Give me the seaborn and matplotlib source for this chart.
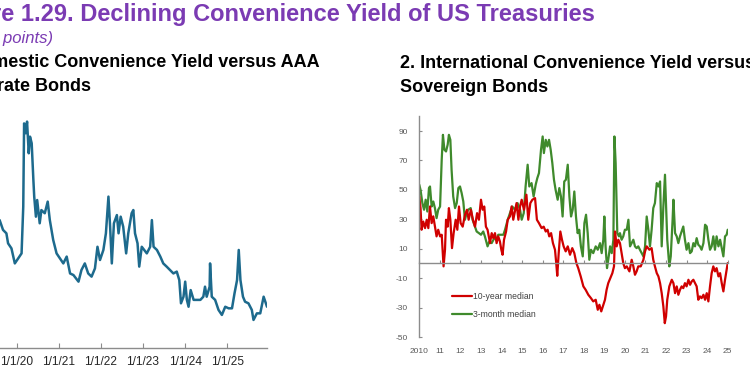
import matplotlib
matplotlib.use("Agg")
import matplotlib.pyplot as plt
import seaborn as sns
import pandas as pd

# ---------------- data ----------------
# Panel 1: domestic convenience yield (basis points), decimal years
dom_x = [2019.50, 2019.60, 2019.68, 2019.76, 2019.80, 2019.88, 2019.96, 2020.04, 2020.12, 2020.16,
         2020.18, 2020.22, 2020.25, 2020.29, 2020.32, 2020.36, 2020.40, 2020.42, 2020.46, 2020.49,
         2020.55, 2020.59, 2020.67, 2020.74, 2020.79, 2020.87, 2020.95, 2021.03, 2021.11, 2021.19,
         2021.27, 2021.35, 2021.47, 2021.54, 2021.62, 2021.70, 2021.78, 2021.86, 2021.92, 2021.98,
         2022.06, 2022.12, 2022.18, 2022.22, 2022.26, 2022.31, 2022.38, 2022.42, 2022.47, 2022.53,
         2022.60, 2022.65, 2022.73, 2022.77, 2022.81, 2022.87, 2022.91, 2022.97, 2023.09, 2023.17,
         2023.21, 2023.25, 2023.33, 2023.41, 2023.48, 2023.56, 2023.64, 2023.72, 2023.80, 2023.86,
         2023.90, 2023.96, 2024.00, 2024.04, 2024.08, 2024.13, 2024.20, 2024.28, 2024.36, 2024.43,
         2024.47, 2024.51, 2024.58, 2024.59, 2024.63, 2024.71, 2024.79, 2024.87, 2024.95, 2025.03,
         2025.11, 2025.17, 2025.23, 2025.27, 2025.31, 2025.37, 2025.42, 2025.50, 2025.58, 2025.62,
         2025.70, 2025.78, 2025.86, 2025.94]
dom_v = [54.0, 56.1, 51.8, 50.3, 45.9, 43.7, 37.1, 39.3, 41.5, 62.0,
         98.5, 94.2, 99.3, 85.4, 92.7, 89.8, 73.7, 66.4, 57.6, 64.9,
         54.7, 60.5, 59.1, 64.2, 56.1, 47.4, 41.5, 39.3, 37.1, 40.1,
         32.7, 32.0, 29.1, 34.2, 37.1, 32.7, 31.3, 34.9, 44.4, 38.6,
         43.0, 50.3, 66.4, 53.2, 37.1, 54.7, 58.3, 50.3, 57.6, 53.2,
         41.5, 50.3, 59.1, 60.5, 50.3, 45.9, 35.7, 44.4, 41.5, 44.4,
         56.1, 44.4, 43.0, 40.1, 37.1, 35.7, 34.2, 32.7, 33.5, 29.8,
         19.6, 22.5, 29.1, 21.1, 18.1, 25.4, 21.1, 21.1, 21.1, 22.5,
         26.9, 22.5, 26.9, 37.1, 22.5, 21.1, 16.7, 14.5, 18.1, 17.4,
         17.4, 24.0, 29.8, 43.0, 29.8, 22.5, 20.3, 19.6, 16.7, 12.3,
         15.2, 15.2, 22.5, 18.1]
dom_ticks = [2020, 2021, 2022, 2023, 2024, 2025]
dom_tick_labels = ["1/1/20", "1/1/21", "1/1/22", "1/1/23", "1/1/24", "1/1/25"]

# Panel 2: international convenience yield (basis points)
red_x = [2010.00, 2010.06, 2010.11, 2010.19, 2010.28, 2010.36, 2010.44, 2010.52, 2010.60, 2010.68,
         2010.76, 2010.84, 2010.92, 2011.01, 2011.09, 2011.14, 2011.18, 2011.25, 2011.30, 2011.38,
         2011.44, 2011.51, 2011.59, 2011.67, 2011.77, 2011.85, 2011.93, 2012.01, 2012.11, 2012.22,
         2012.32, 2012.40, 2012.51, 2012.61, 2012.71, 2012.81, 2012.90, 2013.00, 2013.08, 2013.16,
         2013.24, 2013.32, 2013.44, 2013.52, 2013.60, 2013.68, 2013.76, 2013.84, 2013.92, 2013.99,
         2014.05, 2014.12, 2014.22, 2014.30, 2014.41, 2014.49, 2014.57, 2014.65, 2014.73, 2014.82,
         2014.90, 2014.98, 2015.09, 2015.21, 2015.30, 2015.40, 2015.50, 2015.63, 2015.72, 2015.82,
         2015.95, 2016.05, 2016.15, 2016.24, 2016.32, 2016.41, 2016.50, 2016.60, 2016.66, 2016.71,
         2016.78, 2016.86, 2016.94, 2017.02, 2017.12, 2017.22, 2017.33, 2017.44, 2017.54, 2017.64,
         2017.73, 2017.85, 2017.98, 2018.09, 2018.22, 2018.35, 2018.46, 2018.58, 2018.68, 2018.76,
         2018.85, 2018.95, 2019.03, 2019.11, 2019.19, 2019.29, 2019.39, 2019.47, 2019.52, 2019.60,
         2019.68, 2019.76, 2019.84, 2019.92, 2020.00, 2020.09, 2020.22, 2020.33, 2020.41, 2020.49,
         2020.57, 2020.65, 2020.77, 2020.90, 2020.98, 2021.06, 2021.19, 2021.30, 2021.38, 2021.46,
         2021.55, 2021.63, 2021.71, 2021.79, 2021.87, 2021.94, 2022.00, 2022.06, 2022.16, 2022.28,
         2022.36, 2022.44, 2022.52, 2022.60, 2022.68, 2022.76, 2022.84, 2022.92, 2023.00, 2023.09,
         2023.17, 2023.25, 2023.33, 2023.41, 2023.49, 2023.57, 2023.65, 2023.73, 2023.82, 2023.90,
         2023.98, 2024.06, 2024.14, 2024.22, 2024.30, 2024.38, 2024.46, 2024.55, 2024.63, 2024.71,
         2024.79, 2024.87, 2024.95, 2025.00]
red_v = [45.5, 37.6, 22.9, 28.5, 24.0, 29.7, 24.0, 38.7, 27.4, 32.0,
         25.0, 18.4, 22.9, 18.4, 19.5, 7.0, -2.0, 9.3, 29.7, 25.0,
         37.6, 29.7, 10.4, 20.6, 29.7, 22.9, 38.7, 27.4, 25.0, 33.0,
         36.5, 29.7, 36.5, 29.7, 25.0, 34.2, 29.7, 43.3, 36.5, 38.7,
         25.0, 22.9, 13.8, 20.6, 17.2, 20.6, 13.8, 18.4, 15.0, 9.3,
         5.9, 16.1, 21.7, 29.7, 32.0, 38.7, 29.7, 35.3, 41.0, 29.7,
         38.7, 43.3, 36.5, 46.7, 29.7, 41.0, 43.3, 44.4, 29.7, 27.4,
         24.0, 25.0, 21.7, 22.9, 18.4, 20.6, 13.8, 9.3, 0.2, -8.4,
         7.0, 21.7, 16.1, 11.6, 8.2, 11.6, 5.9, 10.4, 7.0, 0.2,
         -3.2, -8.8, -15.6, -17.9, -21.3, -23.6, -25.8, -24.7, -31.5, -28.1,
         -32.6, -28.1, -24.7, -17.9, -13.4, -10.0, -6.6, -2.0, 21.7, 11.6,
         16.1, 13.8, 7.0, 0.2, -3.2, -2.0, -5.4, 2.5, -2.0, -7.7,
         -5.4, -2.0, -2.0, 2.5, 8.2, 11.6, 9.3, 10.4, 2.5, -2.0,
         -6.6, -8.8, -13.4, -20.2, -29.2, -40.6, -36.0, -24.7, -15.6, -11.1,
         -13.4, -20.2, -15.6, -21.3, -17.9, -15.6, -16.8, -13.4, -15.6, -11.1,
         -14.5, -12.2, -11.1, -13.4, -15.6, -24.7, -22.4, -23.6, -21.3, -24.7,
         -20.2, -25.8, -15.6, -6.6, -2.0, -5.4, -3.2, -8.8, -6.6, -13.4,
         -19.0, -11.1, -4.3, 0.2]

green_x = [2010.00, 2010.06, 2010.15, 2010.23, 2010.31, 2010.39, 2010.47, 2010.52, 2010.60, 2010.68,
           2010.76, 2010.84, 2010.92, 2011.01, 2011.09, 2011.15, 2011.22, 2011.30, 2011.38, 2011.44,
           2011.51, 2011.57, 2011.65, 2011.74, 2011.82, 2011.90, 2011.98, 2012.06, 2012.14, 2012.22,
           2012.30, 2012.38, 2012.50, 2012.59, 2012.71, 2012.79, 2012.90, 2013.00, 2013.11, 2013.19,
           2013.32, 2013.41, 2013.52, 2013.65, 2013.76, 2013.84, 2013.97, 2014.09, 2014.17, 2014.30,
           2014.41, 2014.52, 2014.65, 2014.78, 2014.90, 2014.98, 2015.08, 2015.17, 2015.27, 2015.35,
           2015.46, 2015.56, 2015.66, 2015.74, 2015.82, 2015.92, 2016.00, 2016.06, 2016.15, 2016.23,
           2016.31, 2016.39, 2016.47, 2016.55, 2016.63, 2016.73, 2016.81, 2016.89, 2016.97, 2017.05,
           2017.13, 2017.22, 2017.30, 2017.38, 2017.46, 2017.54, 2017.62, 2017.70, 2017.78, 2017.86,
           2017.95, 2018.03, 2018.11, 2018.19, 2018.27, 2018.35, 2018.46, 2018.58, 2018.68, 2018.79,
           2018.87, 2018.95, 2019.00, 2019.06, 2019.13, 2019.19, 2019.28, 2019.36, 2019.44, 2019.49,
           2019.55, 2019.63, 2019.71, 2019.76, 2019.84, 2019.92, 2020.00, 2020.09, 2020.17, 2020.25,
           2020.33, 2020.41, 2020.49, 2020.57, 2020.65, 2020.73, 2020.82, 2020.90, 2020.98, 2021.06,
           2021.14, 2021.22, 2021.30, 2021.38, 2021.46, 2021.55, 2021.63, 2021.71, 2021.76, 2021.79,
           2021.87, 2021.95, 2022.00, 2022.06, 2022.16, 2022.23, 2022.32, 2022.36, 2022.44, 2022.52,
           2022.60, 2022.68, 2022.84, 2022.92, 2023.00, 2023.09, 2023.17, 2023.25, 2023.33, 2023.41,
           2023.49, 2023.57, 2023.65, 2023.73, 2023.82, 2023.90, 2023.98, 2024.06, 2024.14, 2024.22,
           2024.30, 2024.38, 2024.46, 2024.55, 2024.63, 2024.71, 2024.79, 2024.87, 2024.95, 2025.00]
green_v = [53.5, 50.0, 41.0, 36.5, 43.3, 35.3, 51.2, 52.3, 38.7, 42.1,
           37.6, 30.8, 36.5, 38.7, 70.5, 87.4, 77.3, 76.1, 80.7, 87.4,
           84.0, 63.7, 45.5, 37.6, 41.0, 51.2, 52.3, 47.8, 42.1, 29.7,
           34.2, 36.5, 37.6, 29.7, 25.0, 21.7, 20.6, 19.5, 21.7, 18.4,
           11.6, 15.0, 13.8, 17.2, 16.1, 19.5, 19.5, 19.5, 22.9, 29.7,
           34.2, 38.7, 36.5, 41.0, 36.5, 29.7, 34.2, 52.3, 67.1, 52.3,
           54.6, 45.5, 53.5, 58.0, 61.4, 77.3, 86.3, 75.0, 84.0, 79.5,
           84.0, 77.3, 68.2, 56.9, 50.0, 43.3, 51.2, 45.5, 31.9, 55.7,
           56.9, 67.1, 45.5, 31.9, 36.5, 48.9, 31.9, 20.6, 22.9, 11.6,
           4.8, 27.4, 33.1, 20.6, 2.5, 9.3, 7.0, 11.6, 9.3, 13.8,
           7.0, 16.1, 31.9, 11.6, -3.2, 2.5, 11.6, 7.0, 16.1, 86.3,
           68.2, 20.6, 18.4, 20.6, 16.1, 18.4, 22.9, 22.9, 29.7, 11.6,
           13.8, 16.1, 11.6, 10.4, 11.6, 9.3, 7.0, 4.8, 11.6, 31.9,
           22.9, 11.6, 22.9, 37.6, 41.0, 54.6, 52.3, 55.7, 29.7, 11.6,
           38.7, 60.3, 41.0, 16.1, -2.0, 4.8, 29.7, 43.3, 20.6, 18.4,
           13.8, 18.4, 25.1, 16.1, 9.3, 13.8, 7.0, 8.2, 13.8, 11.6,
           17.2, 12.7, 11.6, 9.3, 13.8, 26.3, 25.1, 16.1, 9.3, 11.6,
           18.4, 9.3, 18.4, 11.6, 16.1, 10.4, 4.8, 18.4, 19.5, 22.9]

intl_xticks = list(range(2010, 2026))
intl_xtick_labels = ["2010"] + [f"{y % 100:02d}" for y in range(2011, 2026)]
intl_yticks = [-50, -30, -10, 10, 30, 50, 70, 90]
series_names = ["10-year median", "3-month median"]

# ---------------- style ----------------
sns.set_theme(style="white")
plt.rcParams["font.family"] = ["Liberation Sans", "DejaVu Sans"]

W, H = 750, 375
fig = plt.figure(figsize=(7.5, 3.75), dpi=100)
fig.patch.set_facecolor("white")

def fx(px):
    return px / W

def fy(py):
    return 1 - py / H

PURPLE = "#7b3bb3"
GRID = "#8c8c8c"

# Titles (figure is a crop: left part falls outside the canvas)
fig.text(fx(-58), fy(21), "Figure 1.29. Declining Convenience Yield of US Treasuries",
         ha="left", va="baseline", fontsize=17, fontweight="bold", color=PURPLE)
fig.text(fx(53), fy(43), "(Basis points)", ha="right", va="baseline",
         fontsize=12, fontstyle="italic", color=PURPLE)
fig.text(fx(320), fy(67), "1. Domestic Convenience Yield versus AAA", ha="right",
         va="baseline", fontsize=13, fontweight="bold", color="black")
fig.text(fx(91), fy(91), "Corporate Bonds", ha="right", va="baseline",
         fontsize=13, fontweight="bold", color="black")
fig.text(fx(400), fy(68), "2. International Convenience Yield versus", ha="left",
         va="baseline", fontsize=13, fontweight="bold", color="black")
fig.text(fx(400), fy(92), "Sovereign Bonds", ha="left", va="baseline",
         fontsize=13, fontweight="bold", color="black")

# ---------------- panel 1 ----------------
ax1 = fig.add_axes([fx(-40), fy(348), (267 + 40) / W, (348 - 120) / H])
ax1.set_facecolor("none")
sns.lineplot(x=dom_x, y=dom_v, ax=ax1, color="#1d6a8d", linewidth=1.8,
             estimator=None, sort=False)
ax1.set_xlim(2018.66, 2025.94)
ax1.set_ylim(0, 100)
for s in ["left", "top", "right"]:
    ax1.spines[s].set_visible(False)
ax1.spines["bottom"].set_color(GRID)
ax1.spines["bottom"].set_linewidth(1.0)
ax1.set_xticks(dom_ticks, dom_tick_labels)
ax1.set_yticks([])
ax1.tick_params(axis="x", bottom=True, direction="in", length=3.5, width=0.8,
                color=GRID, labelsize=8.6, labelcolor="#262626", pad=6)
ax1.set_xlabel("")
ax1.set_ylabel("")

# ---------------- panel 2 ----------------
ax2 = fig.add_axes([fx(419.3), fy(337), 308.4 / W, (337 - 116.3) / H])
ax2.set_facecolor("none")
sns.lineplot(x=green_x, y=green_v, ax=ax2, color="#3f8a2c", linewidth=1.6,
             estimator=None, sort=False)
sns.lineplot(x=red_x, y=red_v, ax=ax2, color="#d00000", linewidth=1.6,
             estimator=None, sort=False)
green_line, red_line = ax2.lines[0], ax2.lines[1]
ax2.set_xlim(2010, 2025)
ax2.set_ylim(-50, 100)
for s in ["top", "right"]:
    ax2.spines[s].set_visible(False)
ax2.spines["left"].set_color(GRID)
ax2.spines["left"].set_linewidth(1.0)
ax2.spines["bottom"].set_position(("data", 0))
ax2.spines["bottom"].set_color(GRID)
ax2.spines["bottom"].set_linewidth(1.0)
ax2.set_xticks(intl_xticks)
ax2.tick_params(axis="x", bottom=True, direction="in", length=2.5, width=0.8,
                color=GRID, labelbottom=False)
ax2.set_yticks(intl_yticks, [str(v) for v in intl_yticks])
ax2.tick_params(axis="y", left=True, direction="in", length=2.5, width=0.8,
                color=GRID, labelsize=6, labelcolor="#595959", pad=8)
ax2.set_xlabel("")
ax2.set_ylabel("")

sec = ax2.secondary_xaxis("bottom")
sec.set_xticks(intl_xticks, intl_xtick_labels)
sec.tick_params(axis="x", length=0, labelsize=6, labelcolor="#595959", pad=8)
sec.spines["bottom"].set_visible(False)

ax2.legend(handles=[red_line, green_line], labels=series_names,
           loc="center left", bbox_to_anchor=(0.106, 0.143), frameon=False,
           fontsize=6.2, handlelength=2.3, handletextpad=0.15, labelspacing=1.0,
           borderpad=0, borderaxespad=0, labelcolor="#404040")

fig.savefig("out.png", dpi=100, facecolor="white")
